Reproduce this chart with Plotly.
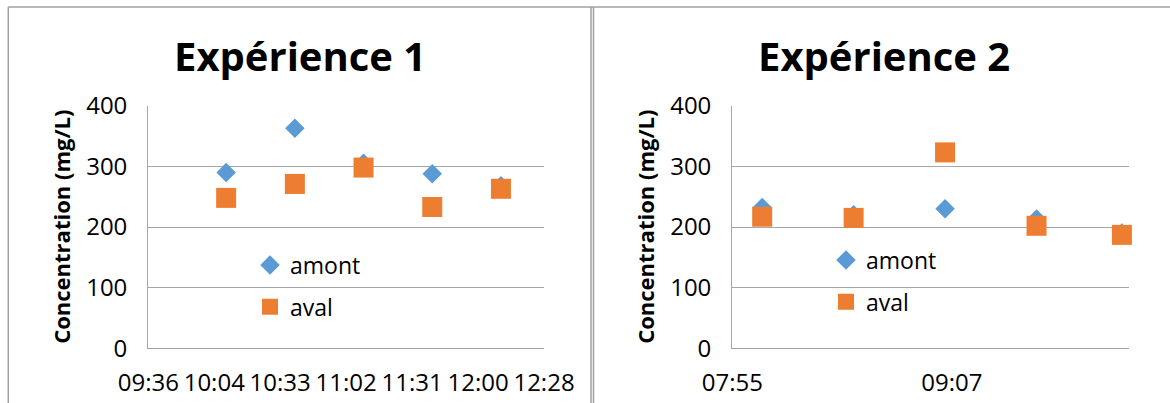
import plotly.graph_objects as go

DAY = "2000-01-01 "

# ---- data ----
exp1_times = ["10:10", "10:40", "11:10", "11:40", "12:10"]
exp1_amont = [290, 363, 305, 288, 268]
exp1_aval = [248, 271, 298, 233, 263]

exp2_times = ["08:05", "08:35", "09:05", "09:35", "10:03"]
exp2_amont = [232, 220, 230, 213, 190]
exp2_aval = [217, 215, 323, 202, 187]

exp1_tickvals = ["09:36:00", "10:04:48", "10:33:36", "11:02:24", "11:31:12", "12:00:00", "12:28:48"]
exp1_ticktext = ["09:36", "10:04", "10:33", "11:02", "11:31", "12:00", "12:28"]
exp1_range = ["09:36:00", "12:28:48"]

exp2_tickvals = ["07:55:12", "09:07:12"]
exp2_ticktext = ["07:55", "09:07"]
exp2_range = ["07:55:12", "10:05:14"]

y_tickvals = [0, 100, 200, 300, 400]
titles = ["Expérience 1", "Expérience 2"]
y_title = "Concentration (mg/L)"
series_names = ["amont", "aval"]

BLUE = "#5B9BD5"
ORANGE = "#ED7D31"
GRID = "#A6A6A6"
FONT = "Open Sans"
W, H = 1170, 403


def t(lst):
    return [DAY + v for v in lst]


def px_x(x):
    return x / W


def px_y(y):
    return (H - y) / H


fig = go.Figure()

for i, (times, amont, aval) in enumerate([(exp1_times, exp1_amont, exp1_aval),
                                           (exp2_times, exp2_amont, exp2_aval)]):
    xa = "x" if i == 0 else "x2"
    ya = "y" if i == 0 else "y2"
    lg = "legend" if i == 0 else "legend2"
    fig.add_trace(go.Scatter(
        x=t(times), y=amont, mode="markers", name=series_names[0],
        xaxis=xa, yaxis=ya, legend=lg, legendgroup="a%d" % i,
        marker=dict(symbol="diamond", size=15, color=BLUE, line=dict(width=0)),
        cliponaxis=False))
    fig.add_trace(go.Scatter(
        x=t(times), y=aval, mode="markers", name=series_names[1],
        xaxis=xa, yaxis=ya, legend=lg, legendgroup="b%d" % i,
        marker=dict(symbol="square", size=20, color=ORANGE, line=dict(width=0)),
        cliponaxis=False))

tickfont = dict(family=FONT, size=24, color="#000000")

common_x = dict(type="date", showgrid=False, showline=True, linecolor=GRID, linewidth=1.3,
                ticks="", tickfont=tickfont, zeroline=False, automargin=False,
                ticklabelstandoff=13, fixedrange=True)
common_y = dict(range=[0, 400], tickvals=y_tickvals, showgrid=True, gridcolor=GRID,
                gridwidth=1.3, showline=True, linecolor=GRID, linewidth=1.3, ticks="",
                tickfont=tickfont, zeroline=False, ticklabelstandoff=15, fixedrange=True,
                automargin=False)

y_dom = [px_y(348.3), px_y(105.7)]

fig.update_layout(
    template="none",
    width=W, height=H,
    margin=dict(l=0, r=0, t=0, b=0, pad=0, autoexpand=False),
    paper_bgcolor="white", plot_bgcolor="white",
    font=dict(family=FONT, color="#000000"),
    xaxis=dict(common_x, domain=[px_x(148.3), px_x(544)], anchor="y",
               range=t(exp1_range), tickvals=t(exp1_tickvals), ticktext=exp1_ticktext),
    yaxis=dict(common_y, domain=y_dom, anchor="x"),
    xaxis2=dict(common_x, domain=[px_x(732.3), px_x(1128.7)], anchor="y2",
                range=t(exp2_range), tickvals=t(exp2_tickvals), ticktext=exp2_ticktext),
    yaxis2=dict(common_y, domain=y_dom, anchor="x2"),
    legend=dict(x=px_x(250), y=px_y(243.5), xanchor="left", yanchor="top",
                bgcolor="rgba(0,0,0,0)", borderwidth=0, tracegroupgap=9,
                traceorder="grouped", font=dict(family=FONT, size=23, color="#000000")),
    legend2=dict(x=px_x(826), y=px_y(238.5), xanchor="left", yanchor="top",
                 bgcolor="rgba(0,0,0,0)", borderwidth=0, tracegroupgap=9,
                 traceorder="grouped", font=dict(family=FONT, size=23, color="#000000")),
    showlegend=True,
)

# titles and axis titles
for i, cx in enumerate([299.5, 883.5]):
    fig.add_annotation(text=titles[i], xref="paper", yref="paper",
                       x=px_x(cx), y=px_y(56), xanchor="center", yanchor="middle",
                       showarrow=False,
                       font=dict(family=FONT, size=40, color="#000000", weight="bold"))
for i, cx in enumerate([60.3, 644.3]):
    fig.add_annotation(text=y_title, xref="paper", yref="paper",
                       x=px_x(cx), y=px_y(226.5), xanchor="center", yanchor="middle",
                       textangle=-90, showarrow=False,
                       font=dict(family=FONT, size=22, color="#000000", weight="bold"))

# chart borders
border = dict(color="#A0A0A0", width=1.5)
for (x0, y0, x1, y1) in [(8.3, 7, 1170, 7), (8.3, 7, 8.3, 403), (591, 7, 591, 403), (593.5, 7, 593.5, 403)]:
    fig.add_shape(type="line", xref="paper", yref="paper",
                  x0=px_x(x0), y0=px_y(y0), x1=px_x(x1), y1=px_y(y1), line=border)

fig.write_html("out.html", post_script="document.body.style.margin='0';",
               config={"displayModeBar": False})
